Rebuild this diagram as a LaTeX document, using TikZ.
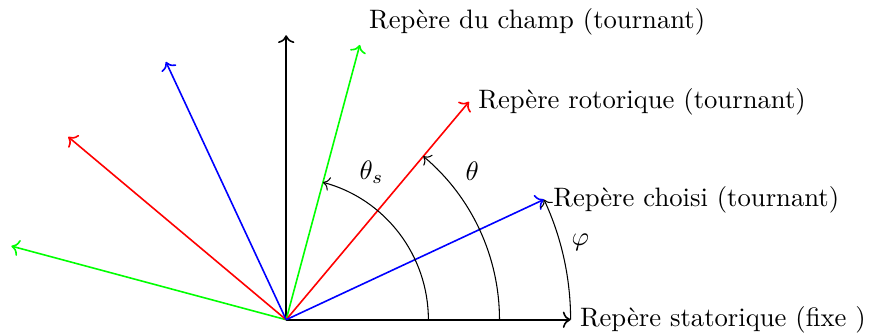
\documentclass[tikz,border=0pt]{standalone}
\usepackage{amsmath,amssymb}
\usepackage{tikz}
\usetikzlibrary{arrows.meta, positioning, calc}

\begin{document}
\begin{tikzpicture}[
  scale=0.75,
  vect/.style={->, semithick},
  angarc/.style={->, thin},
  lbl/.style={inner sep=0.333em}
]
  \useasboundingbox (-5.03,-0.28) rectangle (10.28,5.62);
  \coordinate (O) at (0,0);
  % repere statorique
  \coordinate (sa) at (0:5);
  \coordinate (sb) at (90:5);
  % repere du champ
  \coordinate (ca) at (75:5);
  \coordinate (cb) at (165:5);
  % repere rotorique
  \coordinate (ra) at (50:5);
  \coordinate (rb) at (140:5);
  % repere choisi
  \coordinate (pa) at (25:5);
  \coordinate (pb) at (115:5);

  \draw[vect, black] (O) -- (sa);
  \draw[vect, black] (O) -- (sb);
  \draw[vect, green] (O) -- (ca);
  \draw[vect, green] (O) -- (cb);
  \draw[vect, red] (O) -- (ra);
  \draw[vect, red] (O) -- (rb);
  \draw[vect, blue] (O) -- (pa);
  \draw[vect, blue] (O) -- (pb);

  \node[lbl, right] (lsa) at (sa) {Repère statorique (fixe )};
  \node[lbl, above right] (lca) at (ca) {Repère du champ (tournant)};
  \node[lbl, right] (lra) at (ra) {Repère rotorique (tournant)};
  \node[lbl, right] (lpa) at (pa) {Repère choisi (tournant)};

  % angles
  \draw[angarc] (O) ++(0:2.5) arc (0:75:2.5);
  \draw[angarc] (O) ++(0:3.75) arc (0:50:3.75);
  \draw[angarc] (O) ++(0:5) arc (0:25:5);

  \node (ts) at (60:3) {$\theta_s$};
  \node (tr) at (38.5:4.18) {$\theta$};
  \node (ph) at (14.8:5.35) {$\varphi$};
\end{tikzpicture}
\end{document}
